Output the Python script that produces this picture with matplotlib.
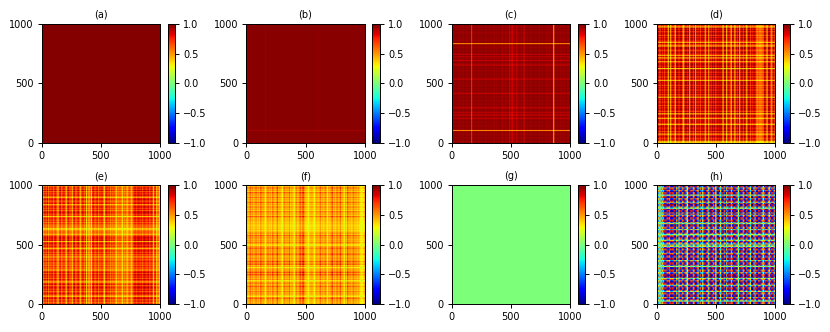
import matplotlib
matplotlib.use('Agg')
import matplotlib.pyplot as plt
import numpy as np

# profiles, 100 cells left to right / top to bottom
a_cols = [0.995] * 100
a_rows = [0.995] * 100
b_cols = [0.99] * 16 + [0.97] + [0.99] * 43 + [0.975] + [0.99] * 39
b_rows = [0.99] * 89 + [0.94] + [0.99] * 10
c_cols = [0.99, 0.97, 0.99, 0.98, 0.99, 0.97, 0.99, 0.98, 0.99, 0.96,
          0.99, 0.98, 0.97, 0.99, 0.98, 0.99, 0.76, 0.98, 0.99, 0.97,
          0.99, 0.98, 0.96, 0.99, 0.97, 0.99, 0.98, 0.99, 0.96, 0.99,
          0.98, 0.99, 0.97, 0.99, 0.98, 0.96, 0.99, 0.97, 0.99, 0.98,
          0.99, 0.97, 0.95, 0.99, 0.98, 0.96, 0.99, 0.98, 0.89, 0.98,
          0.86, 0.98, 0.97, 0.99, 0.90, 0.97, 0.99, 0.98, 0.96, 0.99,
          0.88, 0.98, 0.99, 0.97, 0.99, 0.98, 0.96, 0.99, 0.98, 0.99,
          0.97, 0.99, 0.98, 0.96, 0.99, 0.97, 0.99, 0.98, 0.99, 0.96,
          0.99, 0.97, 0.98, 0.99, 0.96, 0.54, 0.98, 0.99, 0.97, 0.98,
          0.99, 0.96, 0.98, 0.99, 0.97, 0.99, 0.98, 0.96, 0.99, 0.98]
c_rows = [0.99, 0.98, 0.96, 0.99, 0.97, 0.99, 0.98, 0.96, 0.99, 0.98,
          0.99, 0.97, 0.99, 0.96, 0.98, 0.99, 0.56, 0.98, 0.99, 0.96,
          0.98, 0.99, 0.97, 0.99, 0.98, 0.90, 0.99, 0.92, 0.97, 0.99,
          0.89, 0.98, 0.99, 0.96, 0.90, 0.98, 0.99, 0.97, 0.99, 0.96,
          0.98, 0.99, 0.97, 0.99, 0.98, 0.96, 0.91, 0.98, 0.99, 0.97,
          0.99, 0.96, 0.98, 0.99, 0.97, 0.98, 0.99, 0.96, 0.90, 0.99,
          0.98, 0.97, 0.99, 0.98, 0.96, 0.99, 0.98, 0.97, 0.99, 0.96,
          0.90, 0.98, 0.99, 0.97, 0.92, 0.98, 0.89, 0.99, 0.96, 0.91,
          0.98, 0.99, 0.97, 0.98, 0.99, 0.96, 0.98, 0.99, 0.97, 0.56,
          0.98, 0.99, 0.96, 0.98, 0.99, 0.97, 0.98, 0.99, 0.96, 0.98]
d_cols = [0.80, 0.98, 0.74, 0.99, 0.84, 0.98, 0.76, 0.99, 0.90, 0.50,
          0.98, 0.54, 0.88, 0.99, 0.78, 0.52, 0.98, 0.99, 0.80, 0.97,
          0.99, 0.74, 0.50, 0.98, 0.99, 0.84, 0.98, 0.52, 0.96, 0.99,
          0.78, 0.98, 0.54, 0.99, 0.82, 0.98, 0.76, 0.99, 0.92, 0.98,
          0.52, 0.88, 0.99, 0.56, 0.98, 0.80, 0.99, 0.84, 0.98, 0.76,
          0.99, 0.90, 0.98, 0.94, 0.99, 0.50, 0.97, 0.99, 0.52, 0.88,
          0.98, 0.76, 0.52, 0.98, 0.90, 0.50, 0.98, 0.80, 0.99, 0.54,
          0.94, 0.99, 0.78, 0.98, 0.88, 0.52, 0.98, 0.99, 0.76, 0.97,
          0.84, 0.98, 0.90, 0.68, 0.62, 0.70, 0.60, 0.64, 0.68, 0.72,
          0.97, 0.88, 0.50, 0.98, 0.99, 0.78, 0.52, 0.97, 0.84, 0.50]
d_rows = [0.96, 0.78, 0.50, 0.98, 0.88, 0.99, 0.80, 0.97, 0.99, 0.76,
          0.98, 0.84, 0.99, 0.90, 0.80, 0.52, 0.98, 0.76, 0.54, 0.97,
          0.99, 0.88, 0.76, 0.98, 0.94, 0.80, 0.54, 0.97, 0.52, 0.88,
          0.98, 0.58, 0.80, 0.99, 0.97, 0.84, 0.98, 0.44, 0.97, 0.99,
          0.80, 0.98, 0.90, 0.99, 0.76, 0.97, 0.84, 0.52, 0.98, 0.94,
          0.99, 0.78, 0.97, 0.88, 0.99, 0.80, 0.98, 0.92, 0.99, 0.76,
          0.97, 0.52, 0.98, 0.88, 0.99, 0.80, 0.94, 0.98, 0.78, 0.97,
          0.84, 0.99, 0.90, 0.76, 0.98, 0.50, 0.94, 0.99, 0.80, 0.54,
          0.97, 0.88, 0.98, 0.78, 0.52, 0.97, 0.99, 0.84, 0.94, 0.98,
          0.76, 0.98, 0.54, 0.84, 0.99, 0.90, 0.78, 0.97, 0.52, 0.44]
e_cols = [0.84, 0.72, 0.96, 0.76, 0.98, 0.70, 0.92, 0.80, 0.97, 0.72,
          0.86, 0.95, 0.76, 0.54, 0.90, 0.97, 0.72, 0.86, 0.95, 0.76,
          0.56, 0.88, 0.97, 0.74, 0.84, 0.56, 0.90, 0.97, 0.70, 0.86,
          0.95, 0.76, 0.56, 0.86, 0.97, 0.72, 0.88, 0.48, 0.84, 0.50,
          0.80, 0.46, 0.88, 0.97, 0.74, 0.86, 0.95, 0.70, 0.90, 0.84,
          0.97, 0.72, 0.50, 0.86, 0.95, 0.76, 0.90, 0.70, 0.84, 0.74,
          0.84, 0.68, 0.52, 0.74, 0.68, 0.76, 0.70, 0.46, 0.74, 0.66,
          0.76, 0.48, 0.70, 0.78, 0.68, 0.50, 0.80, 0.92, 0.97, 0.84,
          0.95, 0.98, 0.86, 0.97, 0.80, 0.95, 0.98, 0.84, 0.90, 0.97,
          0.78, 0.90, 0.97, 0.48, 0.84, 0.90, 0.46, 0.82, 0.44, 0.86]
e_rows = [0.82, 0.70, 0.92, 0.74, 0.97, 0.72, 0.88, 0.76, 0.95, 0.72,
          0.54, 0.86, 0.95, 0.70, 0.84, 0.92, 0.54, 0.80, 0.95, 0.74,
          0.88, 0.70, 0.92, 0.97, 0.76, 0.84, 0.46, 0.80, 0.90, 0.72,
          0.86, 0.68, 0.82, 0.70, 0.66, 0.70, 0.46, 0.48, 0.66, 0.72,
          0.68, 0.52, 0.74, 0.88, 0.95, 0.84, 0.97, 0.50, 0.88, 0.95,
          0.76, 0.92, 0.74, 0.50, 0.84, 0.92, 0.72, 0.88, 0.70, 0.80,
          0.54, 0.82, 0.70, 0.76, 0.88, 0.70, 0.80, 0.68, 0.82, 0.72,
          0.76, 0.54, 0.84, 0.92, 0.74, 0.95, 0.80, 0.88, 0.70, 0.92,
          0.76, 0.50, 0.84, 0.95, 0.72, 0.88, 0.97, 0.76, 0.90, 0.70,
          0.84, 0.95, 0.72, 0.52, 0.86, 0.95, 0.70, 0.90, 0.68, 0.82]
f_cols = [0.64, 0.72, 0.60, 0.88, 0.66, 0.74, 0.62, 0.70, 0.82, 0.64,
          0.72, 0.60, 0.92, 0.66, 0.74, 0.62, 0.42, 0.68, 0.80, 0.64,
          0.72, 0.60, 0.86, 0.68, 0.62, 0.74, 0.92, 0.64, 0.70, 0.60,
          0.44, 0.68, 0.80, 0.62, 0.72, 0.64, 0.86, 0.60, 0.68, 0.62,
          0.42, 0.66, 0.78, 0.60, 0.70, 0.94, 0.70, 0.90, 0.96, 0.64,
          0.60, 0.56, 0.44, 0.60, 0.64, 0.68, 0.58, 0.44, 0.62, 0.72,
          0.60, 0.68, 0.86, 0.64, 0.70, 0.60, 0.80, 0.66, 0.44, 0.68,
          0.62, 0.74, 0.94, 0.64, 0.70, 0.60, 0.86, 0.66, 0.72, 0.92,
          0.62, 0.68, 0.44, 0.70, 0.60, 0.92, 0.66, 0.74, 0.62, 0.70,
          0.82, 0.64, 0.72, 0.60, 0.68, 0.58, 0.46, 0.44, 0.50, 0.64]
f_rows = [0.68, 0.60, 0.86, 0.64, 0.72, 0.58, 0.90, 0.66, 0.70, 0.60,
          0.82, 0.62, 0.70, 0.56, 0.88, 0.64, 0.70, 0.58, 0.80, 0.62,
          0.68, 0.56, 0.84, 0.64, 0.70, 0.58, 0.86, 0.66, 0.60, 0.64,
          0.60, 0.56, 0.60, 0.54, 0.52, 0.58, 0.54, 0.60, 0.50, 0.64,
          0.72, 0.60, 0.86, 0.68, 0.74, 0.62, 0.70, 0.64, 0.80, 0.60,
          0.44, 0.68, 0.74, 0.84, 0.66, 0.72, 0.64, 0.80, 0.86, 0.68,
          0.62, 0.74, 0.66, 0.70, 0.94, 0.64, 0.96, 0.60, 0.70, 0.44,
          0.72, 0.64, 0.74, 0.92, 0.70, 0.94, 0.66, 0.70, 0.62, 0.74,
          0.44, 0.66, 0.80, 0.62, 0.70, 0.86, 0.64, 0.72, 0.60, 0.80,
          0.66, 0.70, 0.62, 0.44, 0.74, 0.86, 0.64, 0.70, 0.60, 0.68]
g_cols = [0.0] * 100
g_rows = [0.0] * 100
h_cols = [0.5, -0.5, 0.4, -0.5, 0.5, -0.6, 0.9, 0.9, -0.8, -0.9,
          -0.7, 0.9, 1.0, 0.8, -0.9, -1.0, 0.6, 0.9, -0.5, -0.9,
          -0.8, 0.7, 0.9, -0.9, -0.6, 0.3, 0.9, 1.0, -0.8, -0.9,
          0.6, 0.8, -1.0, -0.9, -0.5, 0.9, 0.7, -0.8, 0.4, 0.9,
          1.0, -0.9, -0.7, 0.5, 0.9, -1.0, -0.8, 0.7, 0.9, 0.3,
          -0.9, -1.0, 0.8, -0.4, 0.9, 1.0, -0.7, -0.9, 0.6, -0.8,
          0.9, 0.9, -0.5, 0.8, -1.0, -0.9, 0.9, 0.7, -0.3, 0.9,
          -0.9, -0.8, 0.6, 0.9, -1.0, -0.7, 0.9, 0.8, 0.4, -0.9,
          -1.0, 0.7, -0.6, 0.9, 1.0, -0.8, -0.9, 0.9, 0.6, -0.4,
          0.8, -0.9, -1.0, 0.7, 0.5, -0.8, 0.9, 0.9, -0.6, -0.9]
h_rows = [-0.8, -0.9, 0.6, 0.9, -0.7, -1.0, 0.8, 0.9, -0.4, 0.8,
          1.0, -0.7, -0.9, 0.9, 0.5, -0.8, 1.0, 0.9, -0.7, -0.3,
          0.9, -0.9, -1.0, 0.7, -0.8, 0.6, 0.9, -0.9, -0.8, 0.8,
          1.0, -0.6, 0.4, -1.0, -0.9, 0.7, 0.8, -0.5, 0.9, 0.9,
          -0.8, -0.3, 0.6, 0.9, -0.9, -0.7, 0.4, 0.9, -0.8, -0.5,
          0.6, 0.3, -0.8, 0.9, 0.7, -1.0, -0.8, 0.6, 0.9, -0.9,
          -0.7, 0.9, 1.0, -0.5, -0.9, 0.8, 0.9, -0.7, 0.3, -0.9,
          -1.0, 0.7, 0.9, -0.6, -0.8, 0.9, 1.0, -0.9, 0.4, 0.8,
          -0.7, -1.0, 0.9, 0.7, -0.5, -0.9, 0.8, 1.0, -0.8, -0.4,
          0.9, 0.7, -0.9, -1.0, 0.6, 0.9, -0.8, -0.3, 0.9, 0.8]

titles = ['(a)', '(b)', '(c)', '(d)', '(e)', '(f)', '(g)', '(h)']
cols = [a_cols, b_cols, c_cols, d_cols, e_cols, f_cols, g_cols, h_cols]
rows = [a_rows, b_rows, c_rows, d_rows, e_rows, f_rows, g_rows, h_rows]

W, H = 830, 332
lefts = [41.5, 246.2, 451.5, 656.5]
tops = [24, 185.3]
side = 118.7

plt.rcParams['font.size'] = 7
plt.rcParams['axes.linewidth'] = 0.7
plt.rcParams['xtick.major.width'] = 0.7
plt.rcParams['ytick.major.width'] = 0.7
plt.rcParams['xtick.major.size'] = 3.1
plt.rcParams['ytick.major.size'] = 3.1
plt.rcParams['xtick.major.pad'] = 2.8
plt.rcParams['ytick.major.pad'] = 2.8

fig = plt.figure(figsize=(W / 100, H / 100), dpi=100)

for n in range(8):
    x0 = lefts[n % 4]
    y0 = tops[n // 4]
    ax = fig.add_axes([x0 / W, 1 - (y0 + side) / H, side / W, side / H])
    grid = np.outer(rows[n], cols[n])
    im = ax.imshow(grid, cmap='jet', vmin=-1, vmax=1, aspect='auto',
                   extent=[0, 1000, 0, 1000])
    ax.set_xticks([0, 500, 1000])
    ax.set_yticks([0, 500, 1000])
    ax.set_title(titles[n], fontsize=7, pad=4.5)
    cax = fig.add_axes([(x0 + 126) / W, 1 - (y0 + side) / H, 7.6 / W, side / H])
    cb = fig.colorbar(im, cax=cax)
    cb.set_ticks([-1, -0.5, 0, 0.5, 1])
    cb.outline.set_linewidth(0.7)

fig.savefig('out.png', dpi=100)
